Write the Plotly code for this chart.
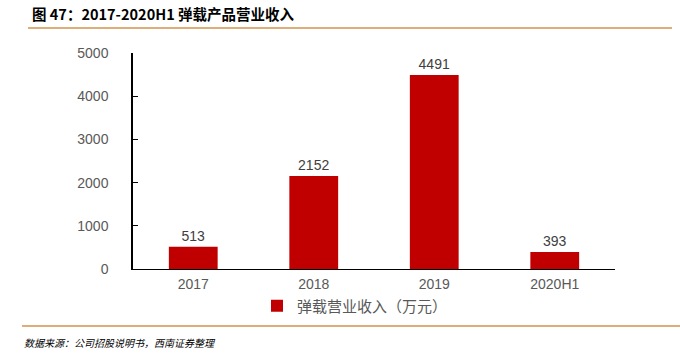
import plotly.graph_objects as go

categories = ["2017", "2018", "2019", "2020H1"]
values = [513, 2152, 4491, 393]
series_name = "弹载营业收入（万元）"
title_text = "图 47：2017-2020H1 弹载产品营业收入"
source_text = "数据来源：公司招股说明书，西南证券整理"
y_ticks = [0, 1000, 2000, 3000, 4000, 5000]

L, R, T, B = 133, 615, 53, 269
W, H = 680, 358
pw, ph = R - L, B - T

def px(x):
    return (x - L) / pw

def py(y):
    return (B - y) / ph

fig = go.Figure()
fig.add_trace(go.Bar(
    x=categories, y=values, name=series_name,
    marker=dict(color="#C00000", line=dict(width=0)),
    text=[str(v) for v in values], textposition="outside",
    textfont=dict(size=14, color="#404040", family="Liberation Sans, Arial"),
    cliponaxis=False, showlegend=True,
))

fig.update_layout(
    width=W, height=H,
    margin=dict(l=L, r=W - R, t=T, b=H - B),
    plot_bgcolor="white", paper_bgcolor="white",
    bargap=0.595,
    font=dict(family="Liberation Sans, Arial", size=14, color="#595959"),
    yaxis=dict(range=[0, 5000], tickvals=y_ticks, showgrid=False, zeroline=False,
               showline=True, linecolor="#000000", linewidth=1.5,
               ticks="inside", ticklen=5, tickcolor="#000000",
               tickfont=dict(size=14, color="#595959"), ticklabelstandoff=20),
    xaxis=dict(showline=True, linecolor="#000000", linewidth=1, ticks="",
               tickfont=dict(size=14, color="#595959"), ticklabelstandoff=2),
    legend=dict(orientation="h", x=px(355), xanchor="center", y=py(306), yanchor="middle",
                font=dict(size=15, color="#595959", family="Noto Sans CJK SC"),
                itemwidth=30, bgcolor="rgba(0,0,0,0)"),
    showlegend=True,
)

fig.add_annotation(xref="paper", yref="paper", x=px(30), y=py(14), xanchor="left", yanchor="middle",
                   text="<b>" + title_text + "</b>", showarrow=False,
                   font=dict(size=14.5, color="#000000", family="Noto Sans CJK SC"))
fig.add_annotation(xref="paper", yref="paper", x=px(22), y=py(342), xanchor="left", yanchor="middle",
                   text="<i>" + source_text + "</i>", showarrow=False,
                   font=dict(size=10, color="#000000", family="Noto Sans CJK SC"))
fig.add_shape(type="line", xref="paper", yref="paper", x0=px(28), x1=px(672), y0=py(28), y1=py(28),
              line=dict(color="#D4924A", width=1.5))
fig.add_shape(type="line", xref="paper", yref="paper", x0=px(22), x1=px(680), y0=py(326), y1=py(326),
              line=dict(color="#D4924A", width=1.5))

fig.write_html("out.html", config={"displayModeBar": False})

with open("out.html", "r", encoding="utf-8") as f:
    html = f.read()
html = html.replace("<body>", '<body style="margin:0;padding:0;">', 1)
with open("out.html", "w", encoding="utf-8") as f:
    f.write(html)
